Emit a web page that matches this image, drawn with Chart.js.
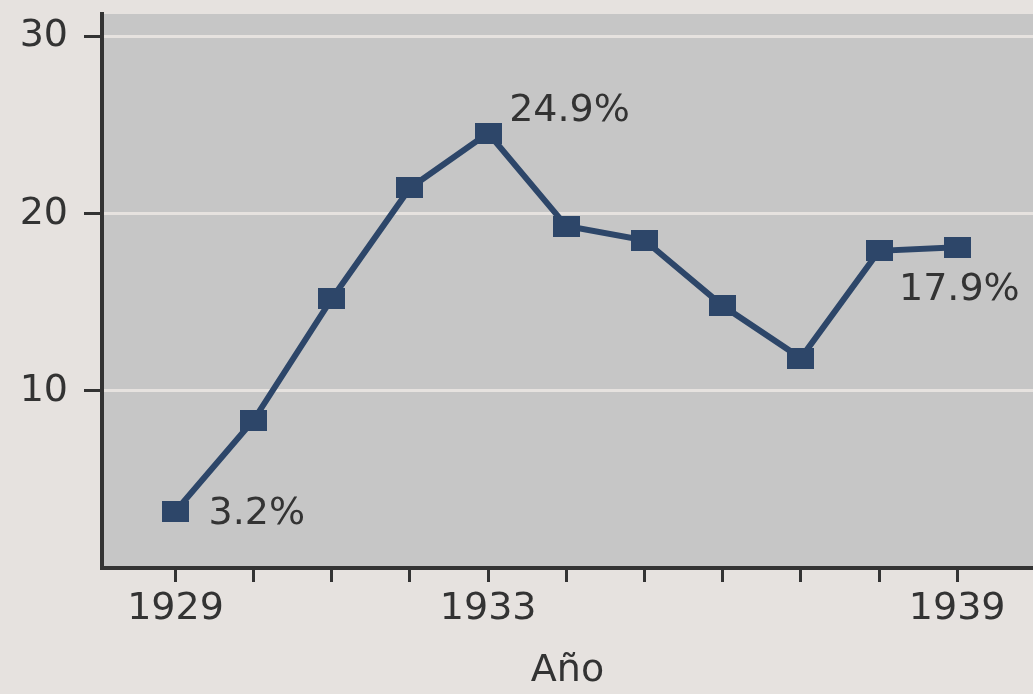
<!DOCTYPE html>
<html>
<head>
<meta charset="utf-8">
<script src="https://cdn.jsdelivr.net/npm/chart.js@4.4.0/dist/chart.umd.min.js"></script>
<style>
  html, body { margin: 0; padding: 0; background: #e6e2df; }
</style>
</head>
<body>
<canvas id="chart" width="1033" height="694"></canvas>
<script>
// datos
const anios = [1929, 1930, 1931, 1932, 1933, 1934, 1935, 1936, 1937, 1938, 1939];
const desempleo = [3.2, 8.35, 15.2, 21.45, 24.55, 19.3, 18.5, 14.8, 11.85, 17.9, 18.1];
const yTicks = [0, 10, 20, 30];
const xEtiquetados = [1929, 1933, 1939];
const etiquetaIndices = [0, 4, 9];
const etiquetaTextos = ['3.2%', '24.9%', '17.9%'];

const colorLinea = '#2d4669';
const colorTexto = '#333333';
const fuente = 'DejaVu Sans';

// marcador rectangular (no cuadrado) como en el original
const marcador = document.createElement('canvas');
marcador.width = 27;
marcador.height = 21;
const mctx = marcador.getContext('2d');
mctx.fillStyle = colorLinea;
mctx.fillRect(0, 0, 27, 21);

const fondo = {
    id: 'fondo',
    beforeDraw(chart) {
        const {ctx, chartArea} = chart;
        ctx.save();
        ctx.fillStyle = '#e6e2df';
        ctx.fillRect(0, 0, chart.width, chart.height);
        ctx.fillStyle = '#c6c6c6';
        ctx.fillRect(chartArea.left, chartArea.top, chartArea.right - chartArea.left, chartArea.bottom - chartArea.top);
        ctx.restore();
    }
};

// desplazamientos de las etiquetas respecto al punto
const offsets = [[33, 3], [21, -22], [20, 39]];

const etiquetas = {
    id: 'etiquetas',
    afterDatasetsDraw(chart) {
        const {ctx} = chart;
        const pts = chart.getDatasetMeta(0).data;
        ctx.save();
        ctx.font = '38px "' + fuente + '"';
        ctx.fillStyle = colorTexto;
        ctx.textAlign = 'left';
        ctx.textBaseline = 'middle';
        etiquetaIndices.forEach((idx, i) => {
            const p = pts[idx];
            ctx.fillText(etiquetaTextos[i], p.x + offsets[i][0], p.y + offsets[i][1]);
        });
        ctx.restore();
    }
};

const ctx = document.getElementById('chart').getContext('2d');
new Chart(ctx, {
    type: 'line',
    data: {
        datasets: [{
            data: anios.map((a, i) => ({x: a, y: desempleo[i]})),
            borderColor: colorLinea,
            borderWidth: 6,
            tension: 0,
            pointStyle: marcador,
            pointRadius: 14,
            fill: false
        }]
    },
    options: {
        responsive: false,
        animation: false,
        layout: {autoPadding: false, padding: {top: 14, left: 0, right: 0, bottom: 0}},
        plugins: {legend: {display: false}, tooltip: {enabled: false}},
        scales: {
            x: {
                type: 'linear',
                min: 1928.06,
                max: 1939.97,
                afterBuildTicks: s => { s.ticks = anios.map(v => ({value: v})); },
                afterFit: s => {
                    s.height = 126;
                    s.paddingLeft = 0;
                    s.paddingRight = 0;
                },
                grid: {drawOnChartArea: false, drawTicks: true, tickLength: 14, tickWidth: 3, tickColor: colorTexto},
                border: {display: true, color: colorTexto, width: 4},
                ticks: {
                    autoSkip: false,
                    maxRotation: 0,
                    padding: 4,
                    color: colorTexto,
                    font: {family: fuente, size: 38},
                    callback: v => xEtiquetados.includes(v) ? String(v) : ''
                },
                title: {
                    display: true,
                    text: 'Año',
                    color: colorTexto,
                    font: {family: fuente, size: 38},
                    padding: {top: 0, bottom: 0}
                }
            },
            y: {
                min: 0,
                max: 31.27,
                afterBuildTicks: s => { s.ticks = yTicks.map(v => ({value: v})); },
                afterFit: s => {
                    s.width = 102;
                    s.paddingTop = 0;
                    s.paddingBottom = 0;
                },
                grid: {
                    color: '#e6e2df',
                    lineWidth: 3,
                    drawTicks: true,
                    tickLength: 18,
                    tickWidth: 3,
                    tickColor: c => c.tick && c.tick.value === 0 ? 'rgba(0,0,0,0)' : colorTexto
                },
                border: {display: true, color: colorTexto, width: 4},
                ticks: {
                    padding: 16,
                    color: colorTexto,
                    font: {family: fuente, size: 38},
                    callback: v => v === 0 ? '' : String(v)
                }
            }
        }
    },
    plugins: [fondo, etiquetas]
});
</script>
</body>
</html>
